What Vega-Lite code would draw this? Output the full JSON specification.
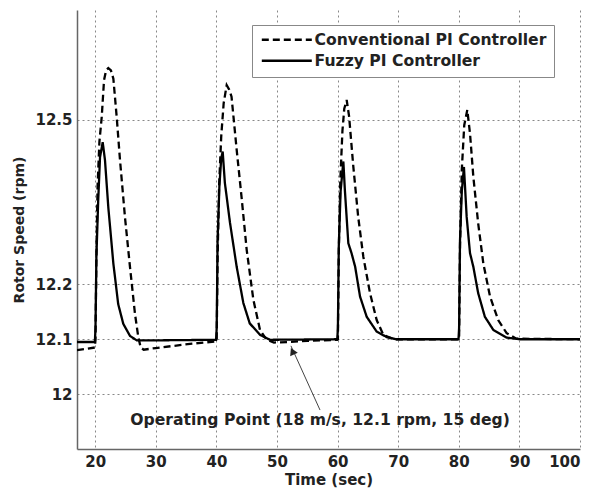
{
  "$schema": "https://vega.github.io/schema/vega-lite/v6.json",
  "width": 503,
  "height": 439,
  "autosize": {"type": "none"},
  "padding": {"left": 77, "top": 10, "right": 16, "bottom": 44},
  "background": "white",
  "config": {
    "view": {"stroke": null},
    "font": "DejaVu Sans",
    "axis": {
      "labelFont": "DejaVu Sans", "labelFontWeight": "bold", "labelFontSize": 15, "labelColor": "#222",
      "titleFont": "DejaVu Sans", "titleFontWeight": "bold", "titleFontSize": 14, "titleColor": "#222",
      "ticks": false, "domainColor": "#666", "domainWidth": 1.5,
      "gridColor": "#888", "gridDash": [2, 3], "gridWidth": 1, "gridOpacity": 1
    }
  },
  "datasets": {
    "series": [
      {"t": 17, "y": 12.080, "s": "Conventional PI Controller"},
      {"t": 19.95, "y": 12.085, "s": "Conventional PI Controller"},
      {"t": 20.05, "y": 12.10, "s": "Conventional PI Controller"},
      {"t": 20.2, "y": 12.25, "s": "Conventional PI Controller"},
      {"t": 20.4, "y": 12.38, "s": "Conventional PI Controller"},
      {"t": 20.7, "y": 12.46, "s": "Conventional PI Controller"},
      {"t": 21.08, "y": 12.505, "s": "Conventional PI Controller"},
      {"t": 21.46, "y": 12.572, "s": "Conventional PI Controller"},
      {"t": 21.8, "y": 12.59, "s": "Conventional PI Controller"},
      {"t": 22.17, "y": 12.594, "s": "Conventional PI Controller"},
      {"t": 22.6, "y": 12.59, "s": "Conventional PI Controller"},
      {"t": 23.0, "y": 12.575, "s": "Conventional PI Controller"},
      {"t": 23.55, "y": 12.505, "s": "Conventional PI Controller"},
      {"t": 24.1, "y": 12.426, "s": "Conventional PI Controller"},
      {"t": 24.92, "y": 12.322, "s": "Conventional PI Controller"},
      {"t": 25.75, "y": 12.231, "s": "Conventional PI Controller"},
      {"t": 26.57, "y": 12.146, "s": "Conventional PI Controller"},
      {"t": 27.1, "y": 12.105, "s": "Conventional PI Controller"},
      {"t": 27.5, "y": 12.085, "s": "Conventional PI Controller"},
      {"t": 28.0, "y": 12.081, "s": "Conventional PI Controller"},
      {"t": 30, "y": 12.084, "s": "Conventional PI Controller"},
      {"t": 33, "y": 12.088, "s": "Conventional PI Controller"},
      {"t": 36, "y": 12.092, "s": "Conventional PI Controller"},
      {"t": 39.95, "y": 12.096, "s": "Conventional PI Controller"},
      {"t": 40.05, "y": 12.10, "s": "Conventional PI Controller"},
      {"t": 40.2, "y": 12.25, "s": "Conventional PI Controller"},
      {"t": 40.45, "y": 12.38, "s": "Conventional PI Controller"},
      {"t": 40.8, "y": 12.47, "s": "Conventional PI Controller"},
      {"t": 41.2, "y": 12.53, "s": "Conventional PI Controller"},
      {"t": 41.7, "y": 12.563, "s": "Conventional PI Controller"},
      {"t": 42.1, "y": 12.555, "s": "Conventional PI Controller"},
      {"t": 42.5, "y": 12.542, "s": "Conventional PI Controller"},
      {"t": 43.35, "y": 12.445, "s": "Conventional PI Controller"},
      {"t": 44.2, "y": 12.354, "s": "Conventional PI Controller"},
      {"t": 45.0, "y": 12.263, "s": "Conventional PI Controller"},
      {"t": 46.1, "y": 12.172, "s": "Conventional PI Controller"},
      {"t": 47.2, "y": 12.117, "s": "Conventional PI Controller"},
      {"t": 48.3, "y": 12.099, "s": "Conventional PI Controller"},
      {"t": 49.5, "y": 12.094, "s": "Conventional PI Controller"},
      {"t": 52, "y": 12.095, "s": "Conventional PI Controller"},
      {"t": 55, "y": 12.097, "s": "Conventional PI Controller"},
      {"t": 59.95, "y": 12.099, "s": "Conventional PI Controller"},
      {"t": 60.05, "y": 12.10, "s": "Conventional PI Controller"},
      {"t": 60.2, "y": 12.26, "s": "Conventional PI Controller"},
      {"t": 60.45, "y": 12.39, "s": "Conventional PI Controller"},
      {"t": 60.8, "y": 12.48, "s": "Conventional PI Controller"},
      {"t": 61.1, "y": 12.52, "s": "Conventional PI Controller"},
      {"t": 61.5, "y": 12.536, "s": "Conventional PI Controller"},
      {"t": 61.9, "y": 12.506, "s": "Conventional PI Controller"},
      {"t": 62.6, "y": 12.414, "s": "Conventional PI Controller"},
      {"t": 63.4, "y": 12.323, "s": "Conventional PI Controller"},
      {"t": 64.25, "y": 12.25, "s": "Conventional PI Controller"},
      {"t": 65.35, "y": 12.184, "s": "Conventional PI Controller"},
      {"t": 66.45, "y": 12.135, "s": "Conventional PI Controller"},
      {"t": 67.55, "y": 12.108, "s": "Conventional PI Controller"},
      {"t": 69.2, "y": 12.100, "s": "Conventional PI Controller"},
      {"t": 79.95, "y": 12.100, "s": "Conventional PI Controller"},
      {"t": 80.05, "y": 12.10, "s": "Conventional PI Controller"},
      {"t": 80.2, "y": 12.27, "s": "Conventional PI Controller"},
      {"t": 80.5, "y": 12.41, "s": "Conventional PI Controller"},
      {"t": 80.9, "y": 12.49, "s": "Conventional PI Controller"},
      {"t": 81.4, "y": 12.518, "s": "Conventional PI Controller"},
      {"t": 81.85, "y": 12.475, "s": "Conventional PI Controller"},
      {"t": 82.4, "y": 12.396, "s": "Conventional PI Controller"},
      {"t": 83.2, "y": 12.311, "s": "Conventional PI Controller"},
      {"t": 84.05, "y": 12.238, "s": "Conventional PI Controller"},
      {"t": 85.15, "y": 12.178, "s": "Conventional PI Controller"},
      {"t": 86.5, "y": 12.135, "s": "Conventional PI Controller"},
      {"t": 87.9, "y": 12.111, "s": "Conventional PI Controller"},
      {"t": 89.5, "y": 12.101, "s": "Conventional PI Controller"},
      {"t": 100, "y": 12.100, "s": "Conventional PI Controller"},
      {"t": 17, "y": 12.095, "s": "Fuzzy PI Controller"},
      {"t": 19.95, "y": 12.095, "s": "Fuzzy PI Controller"},
      {"t": 20.05, "y": 12.12, "s": "Fuzzy PI Controller"},
      {"t": 20.2, "y": 12.25, "s": "Fuzzy PI Controller"},
      {"t": 20.5, "y": 12.353, "s": "Fuzzy PI Controller"},
      {"t": 20.8, "y": 12.432, "s": "Fuzzy PI Controller"},
      {"t": 21.24, "y": 12.459, "s": "Fuzzy PI Controller"},
      {"t": 21.62, "y": 12.426, "s": "Fuzzy PI Controller"},
      {"t": 22.17, "y": 12.34, "s": "Fuzzy PI Controller"},
      {"t": 23.0, "y": 12.238, "s": "Fuzzy PI Controller"},
      {"t": 23.8, "y": 12.164, "s": "Fuzzy PI Controller"},
      {"t": 24.64, "y": 12.128, "s": "Fuzzy PI Controller"},
      {"t": 25.75, "y": 12.106, "s": "Fuzzy PI Controller"},
      {"t": 26.85, "y": 12.098, "s": "Fuzzy PI Controller"},
      {"t": 30, "y": 12.098, "s": "Fuzzy PI Controller"},
      {"t": 39.95, "y": 12.099, "s": "Fuzzy PI Controller"},
      {"t": 40.05, "y": 12.12, "s": "Fuzzy PI Controller"},
      {"t": 40.2, "y": 12.28, "s": "Fuzzy PI Controller"},
      {"t": 40.5, "y": 12.38, "s": "Fuzzy PI Controller"},
      {"t": 40.8, "y": 12.43, "s": "Fuzzy PI Controller"},
      {"t": 41.04, "y": 12.442, "s": "Fuzzy PI Controller"},
      {"t": 41.4, "y": 12.385, "s": "Fuzzy PI Controller"},
      {"t": 42.25, "y": 12.312, "s": "Fuzzy PI Controller"},
      {"t": 43.35, "y": 12.232, "s": "Fuzzy PI Controller"},
      {"t": 44.45, "y": 12.166, "s": "Fuzzy PI Controller"},
      {"t": 45.5, "y": 12.129, "s": "Fuzzy PI Controller"},
      {"t": 47.2, "y": 12.108, "s": "Fuzzy PI Controller"},
      {"t": 48.85, "y": 12.099, "s": "Fuzzy PI Controller"},
      {"t": 59.95, "y": 12.100, "s": "Fuzzy PI Controller"},
      {"t": 60.05, "y": 12.12, "s": "Fuzzy PI Controller"},
      {"t": 60.2, "y": 12.27, "s": "Fuzzy PI Controller"},
      {"t": 60.5, "y": 12.37, "s": "Fuzzy PI Controller"},
      {"t": 60.95, "y": 12.424, "s": "Fuzzy PI Controller"},
      {"t": 61.2, "y": 12.372, "s": "Fuzzy PI Controller"},
      {"t": 61.77, "y": 12.275, "s": "Fuzzy PI Controller"},
      {"t": 62.3, "y": 12.257, "s": "Fuzzy PI Controller"},
      {"t": 62.9, "y": 12.232, "s": "Fuzzy PI Controller"},
      {"t": 63.7, "y": 12.178, "s": "Fuzzy PI Controller"},
      {"t": 64.8, "y": 12.141, "s": "Fuzzy PI Controller"},
      {"t": 66.45, "y": 12.114, "s": "Fuzzy PI Controller"},
      {"t": 68.1, "y": 12.104, "s": "Fuzzy PI Controller"},
      {"t": 69.7, "y": 12.100, "s": "Fuzzy PI Controller"},
      {"t": 79.95, "y": 12.100, "s": "Fuzzy PI Controller"},
      {"t": 80.05, "y": 12.12, "s": "Fuzzy PI Controller"},
      {"t": 80.2, "y": 12.28, "s": "Fuzzy PI Controller"},
      {"t": 80.5, "y": 12.37, "s": "Fuzzy PI Controller"},
      {"t": 80.85, "y": 12.414, "s": "Fuzzy PI Controller"},
      {"t": 81.3, "y": 12.323, "s": "Fuzzy PI Controller"},
      {"t": 81.85, "y": 12.257, "s": "Fuzzy PI Controller"},
      {"t": 82.4, "y": 12.232, "s": "Fuzzy PI Controller"},
      {"t": 83.2, "y": 12.184, "s": "Fuzzy PI Controller"},
      {"t": 84.3, "y": 12.141, "s": "Fuzzy PI Controller"},
      {"t": 85.7, "y": 12.117, "s": "Fuzzy PI Controller"},
      {"t": 87.9, "y": 12.103, "s": "Fuzzy PI Controller"},
      {"t": 90.1, "y": 12.100, "s": "Fuzzy PI Controller"},
      {"t": 100, "y": 12.100, "s": "Fuzzy PI Controller"}
    ],
    "arrow": [{"t1": 57.1, "y1": 11.971, "t2": 52.3, "y2": 12.088}],
    "head": [{"t": 52.55, "y": 12.078}],
    "note": [{"t": 57.1, "y": 11.953, "label": "Operating Point (18 m/s, 12.1 rpm, 15 deg)"}]
  },
  "layer": [
    {
      "data": {"name": "series"},
      "mark": {"type": "line", "color": "black", "strokeWidth": 2.3, "clip": true},
      "encoding": {
        "x": {
          "field": "t", "type": "quantitative",
          "scale": {"domain": [17, 100], "nice": false, "zero": false},
          "axis": {"values": [20, 30, 40, 50, 60, 70, 80, 90, 100], "title": "Time (sec)", "titleFontSize": 15, "labelPadding": 5, "titlePadding": 3}
        },
        "y": {
          "field": "y", "type": "quantitative",
          "scale": {"domain": [11.9, 12.7], "nice": false, "zero": false},
          "axis": {"values": [12, 12.1, 12.2, 12.5], "labelExpr": "'' + datum.value", "title": "Rotor Speed (rpm)", "labelPadding": 5, "titlePadding": 8}
        },
        "strokeDash": {
          "field": "s", "type": "nominal",
          "scale": {"domain": ["Conventional PI Controller", "Fuzzy PI Controller"], "range": [[7, 4], [1, 0]]},
          "legend": {
            "orient": "none", "legendX": 175, "legendY": 15, "title": null,
            "strokeColor": "#888", "fillColor": "white", "padding": 7,
            "labelFont": "DejaVu Sans", "labelFontWeight": "bold", "labelFontSize": 15.6, "labelColor": "#222", "labelLimit": 400,
            "symbolType": "M-1,0H9", "symbolSize": 100, "symbolStrokeWidth": 2.5, "symbolStrokeColor": "black",
            "rowPadding": 4, "labelOffset": 40
          }
        }
      }
    },
    {
      "data": {"name": "arrow"},
      "mark": {"type": "rule", "color": "#444", "strokeWidth": 1},
      "encoding": {
        "x": {"field": "t1", "type": "quantitative"},
        "y": {"field": "y1", "type": "quantitative"},
        "x2": {"field": "t2"},
        "y2": {"field": "y2"}
      }
    },
    {
      "data": {"name": "head"},
      "mark": {"type": "point", "shape": "triangle-up", "filled": true, "color": "#222", "size": 70, "angle": 335, "opacity": 1},
      "encoding": {
        "x": {"field": "t", "type": "quantitative"},
        "y": {"field": "y", "type": "quantitative"}
      }
    },
    {
      "data": {"name": "note"},
      "mark": {"type": "text", "font": "DejaVu Sans", "fontWeight": "bold", "fontSize": 15.6, "color": "#222", "align": "center", "baseline": "middle"},
      "encoding": {
        "x": {"field": "t", "type": "quantitative"},
        "y": {"field": "y", "type": "quantitative"},
        "text": {"field": "label"}
      }
    }
  ]
}
